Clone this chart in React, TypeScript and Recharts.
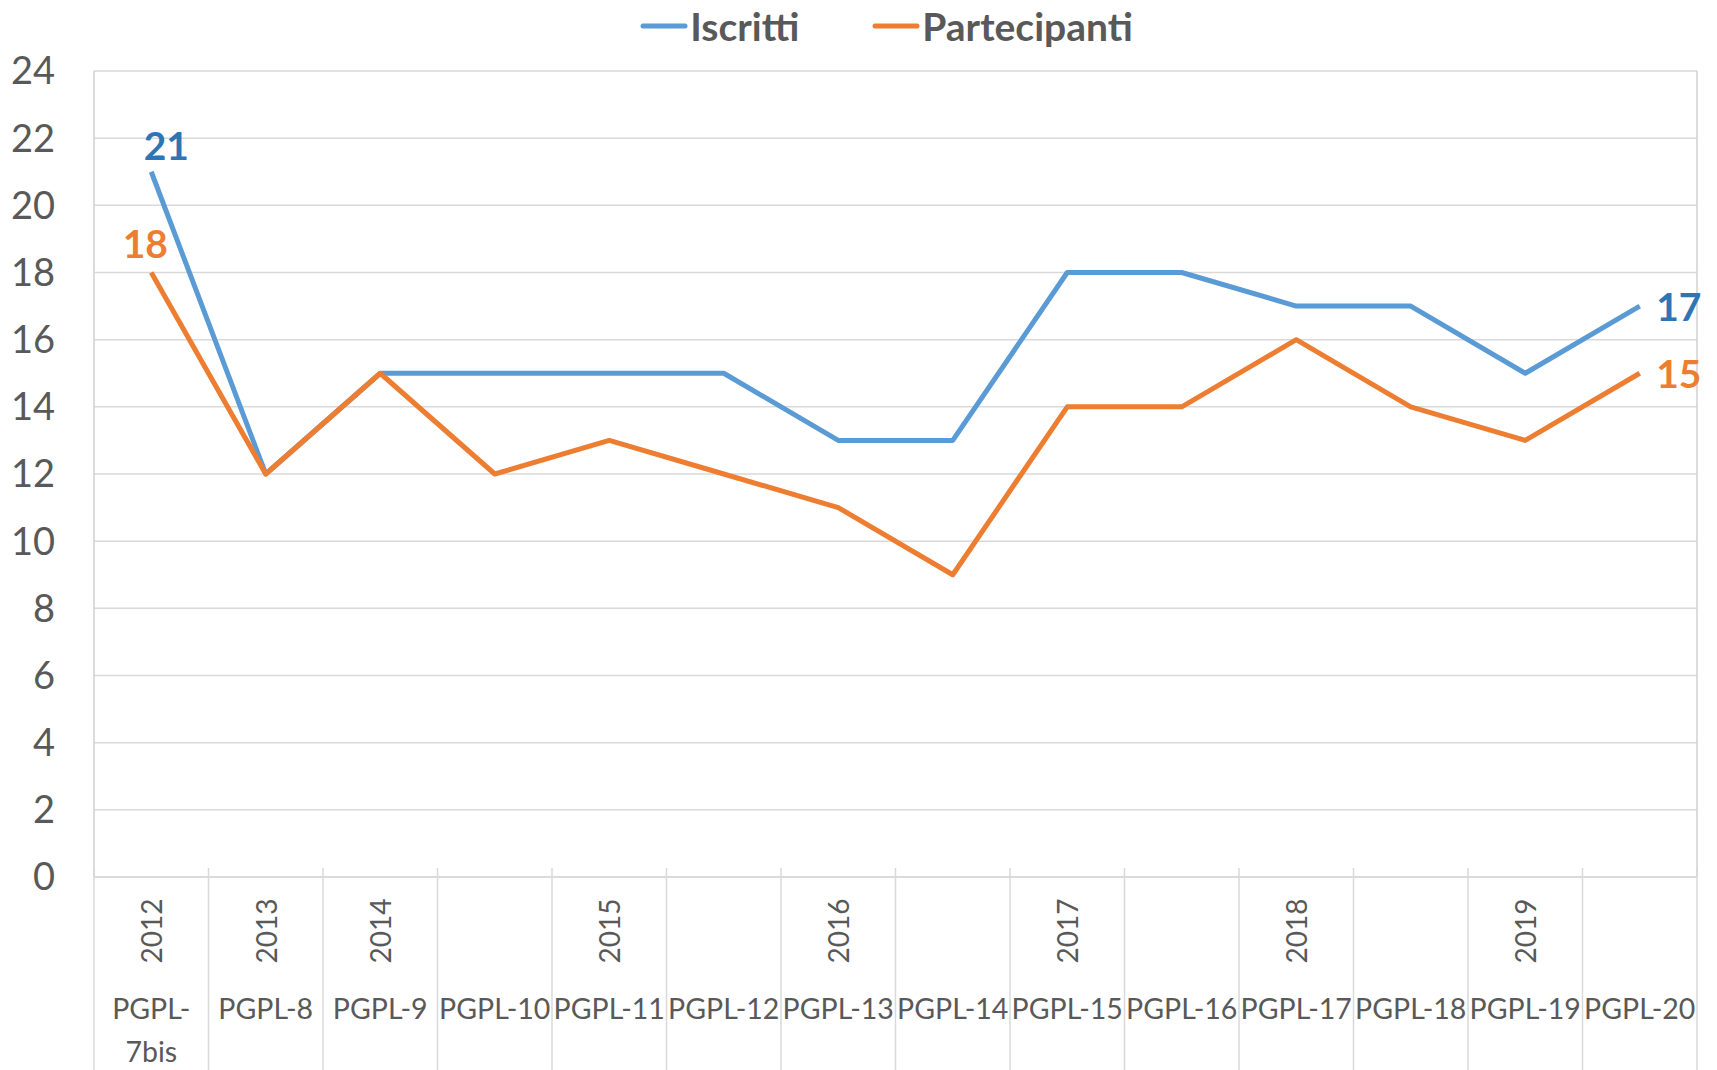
import React from 'react';
import { LineChart, Line, XAxis, YAxis, CartesianGrid, Legend, LabelList } from 'recharts';

const categories = [
  'PGPL-7bis', 'PGPL-8', 'PGPL-9', 'PGPL-10', 'PGPL-11', 'PGPL-12', 'PGPL-13',
  'PGPL-14', 'PGPL-15', 'PGPL-16', 'PGPL-17', 'PGPL-18', 'PGPL-19', 'PGPL-20',
];
const years = ['2012', '2013', '2014', '', '2015', '', '2016', '', '2017', '', '2018', '', '2019', ''];
const iscritti = [21, 12, 15, 15, 15, 15, 13, 13, 18, 18, 17, 17, 15, 17];
const partecipanti = [18, 12, 15, 12, 13, 12, 11, 9, 14, 14, 16, 14, 13, 15];
const yTicks = [0, 2, 4, 6, 8, 10, 12, 14, 16, 18, 20, 22, 24];

const data = categories.map((name, i) => ({
  name,
  iscritti: iscritti[i],
  partecipanti: partecipanti[i],
}));

const W = 1717;
const H = 1070;
const LEFT = 94;
const RIGHT = 20;
const BAND = (W - LEFT - RIGHT) / categories.length;
const FONT = 'Lato, "Open Sans", sans-serif';
const GREY = '#595959';
const GRID = '#D9D9D9';
const BLUE = '#5B9BD5';
const ORANGE = '#ED7D31';

function CategoryTick(props: any) {
  const { x, y, payload, index } = props;
  const i = payload?.index ?? index;
  const label = String(payload.value);
  const cut = label.indexOf('-') + 1;
  const lines = label.length > 7 ? [label.slice(0, cut), label.slice(cut)] : [label];
  const year = years[i];
  return (
    <g>
      <line x1={x - BAND / 2} x2={x - BAND / 2} y1={y - 9} y2={y + 200} stroke={GRID} strokeWidth={1.5} />
      {i === categories.length - 1 && (
        <line x1={x + BAND / 2} x2={x + BAND / 2} y1={y - 9} y2={y + 200} stroke={GRID} strokeWidth={1.5} />
      )}
      {year && (
        <text
          transform={`translate(${x},${y + 54}) rotate(-90)`}
          textAnchor="middle"
          dominantBaseline="central"
          fill={GREY}
          fontSize={28}
          fontFamily={FONT}
        >
          {year}
        </text>
      )}
      {lines.map((t, k) => (
        <text
          key={k}
          x={x}
          y={y + 131 + k * 43}
          textAnchor="middle"
          dominantBaseline="central"
          fill={GREY}
          fontSize={28.5}
          fontFamily={FONT}
        >
          {t}
        </text>
      ))}
    </g>
  );
}

// only first and last points get a value label
const endLabel = (color: string, first: [number, number], last: [number, number]) => (props: any) => {
  const { x, y, value, index } = props;
  if (index !== 0 && index !== categories.length - 1) return null;
  const [dx, dy] = index === 0 ? first : last;
  return (
    <text
      x={x + dx}
      y={y + dy}
      textAnchor="middle"
      dominantBaseline="central"
      fill={color}
      fontSize={39}
      fontWeight={700}
      fontFamily={FONT}
    >
      {value}
    </text>
  );
};

function LegendContent(props: any) {
  const { payload = [] } = props;
  return (
    <div style={{ display: 'flex', justifyContent: 'center', paddingLeft: 56, gap: 73, fontFamily: FONT }}>
      {payload.map((p: any) => (
        <div key={p.value} style={{ display: 'flex', alignItems: 'center' }}>
          <svg width={48} height={10} style={{ marginRight: 2 }}>
            <line x1={3} x2={45} y1={5} y2={5} stroke={p.color} strokeWidth={5} strokeLinecap="round" />
          </svg>
          <span style={{ color: GREY, fontWeight: 700, fontSize: 39, lineHeight: '48px' }}>{p.value}</span>
        </div>
      ))}
    </div>
  );
}

export default function App() {
  return (
    <div style={{ position: 'absolute', left: 0, top: 0, background: '#fff' }}>
      <LineChart width={W} height={H} data={data} margin={{ top: 71, right: 0, left: 0, bottom: 0 }}>
        <CartesianGrid vertical={false} stroke={GRID} strokeWidth={1.5} />
        <XAxis
          dataKey="name"
          interval={0}
          height={193}
          padding={{ left: BAND / 2, right: BAND / 2 }}
          tickLine={false}
          tickSize={0}
          tickMargin={0}
          axisLine={{ stroke: GRID, strokeWidth: 1.5 }}
          tick={<CategoryTick />}
        />
        <YAxis
          domain={[0, 24]}
          ticks={yTicks}
          interval={0}
          width={LEFT}
          tickLine={false}
          tickSize={0}
          tickMargin={39}
          axisLine={{ stroke: '#D0D0D0', strokeWidth: 1.5 }}
          tick={{ fill: GREY, fontSize: 38, fontFamily: FONT }}
        />
        <YAxis
          yAxisId="r"
          orientation="right"
          domain={[0, 24]}
          width={RIGHT}
          tick={false}
          tickLine={false}
          axisLine={{ stroke: '#D0D0D0', strokeWidth: 1.5 }}
        />
        <Legend
          layout="horizontal"
          verticalAlign="middle"
          align="center"
          wrapperStyle={{ top: 2, left: 0, width: W }}
          content={<LegendContent />}
        />
        <Line
          dataKey="iscritti"
          name="Iscritti"
          stroke={BLUE}
          strokeWidth={5}
          strokeLinejoin="round"
          dot={false}
          isAnimationActive={false}
        >
          <LabelList dataKey="iscritti" content={endLabel('#2E75B6', [15, -27], [39, 0])} />
        </Line>
        <Line
          dataKey="partecipanti"
          name="Partecipanti"
          stroke={ORANGE}
          strokeWidth={5}
          strokeLinejoin="round"
          dot={false}
          isAnimationActive={false}
        >
          <LabelList dataKey="partecipanti" content={endLabel(ORANGE, [-6, -30], [39, 0])} />
        </Line>
      </LineChart>
    </div>
  );
}
